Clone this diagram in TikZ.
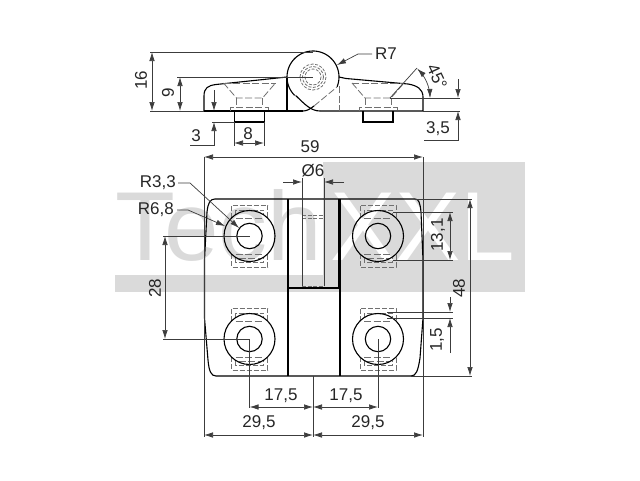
\documentclass[tikz,border=0pt]{standalone}
\usepackage{fontspec}
\setmainfont{Liberation Sans}
\usetikzlibrary{arrows.meta}
\definecolor{wmgray}{HTML}{DADADA}
\definecolor{dimgray}{HTML}{3C3C3C}
\definecolor{hiddengray}{HTML}{707070}
\tikzset{
  part/.style={black,line width=1.1pt},
  hiddenline/.style={hiddengray,line width=0.8pt,dash pattern=on 7pt off 2.5pt},
  dimline/.style={dimgray,line width=0.7pt},
  dimarrow/.style={dimline,{Latex[length=9pt,width=5.5pt]}-{Latex[length=9pt,width=5.5pt]}},
  endarrow/.style={dimline,-{Latex[length=9pt,width=5.5pt]}},
  dimtext/.style={inner sep=0pt,text=black!85,font=\fontsize{17}{17}\selectfont},
}
\begin{document}
\begin{tikzpicture}[x=1pt,y=-1pt]
\useasboundingbox (0,0) rectangle (640,480);
% watermark
\fill[wmgray] (323,162) rectangle (525,292);
\fill[wmgray] (115,275) rectangle (525,292);
\node[anchor=base west,inner sep=0pt,text=wmgray,font=\fontsize{98}{98}\selectfont] (wmtech) at (115,260) {Tech};
\node[anchor=base west,inner sep=0pt,text=white,font=\fontsize{98}{98}\selectfont] (wmxxl) at (330,260) {XXL};
% side view
\draw[part] (204,111) -- (204,96) .. controls (204,88) and (208,85.5) .. (216,84.5) -- (287,77);
\draw[part] (287,77) -- (287,111);
\draw[part] (204,111) -- (303,111);
\draw[part] (320,111) -- (423,111) -- (423,97) .. controls (423,89) and (417,85.5) .. (408,84) -- (346,78.5) -- (339,77);
\draw[part,domain=135:382,samples=60,variable=\t] plot ({313+26*cos(\t)},{77+26*sin(\t)});
\draw[part] (295.6,95.4) .. controls (305,104.5) and (311,111) .. (320,111);
\draw[part] (303,111) .. controls (307,111) and (310,109) .. (314,106);
\draw[hiddenline] (314,106) -- (337,87);
\draw[hiddenline] (339,86) -- (339,111);
\foreach \r in {13,10.5,8}
  \draw[hiddenline,dash pattern=on 3pt off 1.5pt] (313,77) circle (\r);
\foreach \c in {249.5,378} {
  \draw[hiddenline] (\c-26,83) -- (\c+26,83);
  \draw[hiddenline] (\c-26,83) -- (\c-13,98) -- (\c+13,98) -- (\c+26,83);
  \draw[hiddenline] (\c-13,98) -- (\c-13,107);
  \draw[hiddenline] (\c+13,98) -- (\c+13,107);
  \draw[hiddenline] (\c-19,111) -- (\c-19,107) -- (\c+19,107) -- (\c+19,111);
  \draw[part] (\c-15,111) -- (\c-15,122) -- (\c+15,122) -- (\c+15,111);
}
% plan view
\draw[part] (215,199) -- (415,199) .. controls (419,199) and (420,203) .. (421,212) -- (423,260) -- (423,318)
  -- (420,358) .. controls (418,371) and (416,376) .. (411,376) -- (216,376) .. controls (211,376) and (209,371) .. (208,360)
  -- (204.5,318) -- (204.5,260) -- (207,212) .. controls (208,203) and (210,199) .. (215,199);
\draw[part] (288,199) -- (288,376);
\draw[part] (340,199) -- (340,376);
\draw[part] (338.5,199) -- (338.5,288);
\draw[part] (288,288) -- (340,288);
\draw[hiddenline,dash pattern=on 4pt off 1.5pt] (302,215) -- (324,215);
\draw[hiddenline,dash pattern=on 4pt off 1.5pt] (302,218) -- (324,218);
\draw[hiddenline,dash pattern=on 4pt off 1.5pt] (302,286) -- (324,286);
\foreach \c/\h in {249.5/236,378/236,249.5/339,378/339} {
  \draw[hiddenline,dash pattern=on 5pt off 2pt] (\c-18,\h-18) -- (\c-18,\h-31) -- (\c+18,\h-31) -- (\c+18,\h-18);
  \draw[hiddenline,dash pattern=on 5pt off 2pt] (\c-18,\h+18) -- (\c-18,\h+31) -- (\c+18,\h+31) -- (\c+18,\h+18);
  \draw[hiddenline,dash pattern=on 5pt off 2pt] (\c-14,\h-22) -- (\c-14,\h-26) -- (\c+14,\h-26) -- (\c+14,\h-22);
  \draw[hiddenline,dash pattern=on 5pt off 2pt] (\c-14,\h+22) -- (\c-14,\h+26) -- (\c+14,\h+26) -- (\c+14,\h+22);
  \draw[hiddenline] (\c-14,\h-18) -- (\c+14,\h-18);
  \draw[hiddenline] (\c-14,\h+18) -- (\c+14,\h+18);
  \draw[hiddenline] (\c-11,\h+22) -- (\c+11,\h+22);
  \draw[part] (\c,\h) circle (25.5);
  \draw[part] (\c,\h) circle (12.7);
}
% dimensions side view
\draw[dimline] (150,52) -- (313,52);
\draw[dimline] (150,111) -- (204,111);
\draw[dimarrow] (152,52) -- (152,111);
\node[dimtext,rotate=90] (dimsixteen) at (141,80) {16};
\draw[dimline] (177,77) -- (313,77);
\draw[dimarrow] (180,77) -- (180,111);
\node[dimtext,rotate=90] (dimnine) at (168,93) {9};
\draw[endarrow] (214,90) -- (214,111);
\draw[endarrow] (190,145) -- (214,145) -- (214,122);
\draw[dimline] (212,122) -- (234,122);
\node[dimtext] (dimthree) at (196,136) {3};
\draw[dimline] (234,122) -- (234,146);
\draw[dimline] (264,122) -- (264,146);
\draw[dimarrow] (234,143) -- (264,143);
\node[dimtext] (dimeight) at (248,134) {8};
\draw[dimarrow] (204,157) -- (423,157);
\node[dimtext] (dimwidth) at (310,147) {59};
\node[dimtext,anchor=west] (dimrseven) at (375,54) {R7};
\draw[endarrow] (372,54) -- (358,54) -- (337,65);
\draw[dimline] (390,98) -- (417,68);
\draw[dimline] (390,98) -- (460,98);
\draw[dimline] (423,111) -- (460,111);
\draw[dimarrow,domain=-47:0,samples=20,variable=\t] plot ({390+40*cos(\t)},{98+40*sin(\t)});
\node[dimtext,rotate=-65] (dimangle) at (437,77) {45°};
\draw[endarrow] (458,79) -- (458,98);
\draw[endarrow] (424,140) -- (458,140) -- (458,111);
\node[dimtext] (dimdepth) at (438,129) {3,5};
% dimensions plan view
\draw[dimline] (204,157) -- (204,437);
\draw[dimline] (423,157) -- (423,437);
\node[dimtext,anchor=east] (dimrthree) at (176,183) {R3,3};
\draw[endarrow] (178,183) -- (190,183) -- (239,228);
\node[dimtext,anchor=east] (dimrsix) at (174,210) {R6,8};
\draw[endarrow] (177,210) -- (188,210) -- (225,226);
\draw[dimline] (302,178) -- (302,286);
\draw[dimline] (324,178) -- (324,286);
\draw[endarrow] (283,182) -- (302,182);
\draw[endarrow] (344,182) -- (324,182);
\node[dimtext] (dimbore) at (313,171) {Ø6};
\draw[dimline] (163,236) -- (249.5,236);
\draw[dimline] (163,339) -- (249.5,339);
\draw[dimarrow] (165,236) -- (165,339);
\node[dimtext,rotate=90] (dimhigh) at (155,288) {28};
\draw[dimline] (393,212) -- (453,212);
\draw[dimline] (393,260) -- (453,260);
\draw[dimarrow] (450,212) -- (450,260);
\node[dimtext,rotate=90] (dimwide) at (438,235) {13,1};
\draw[dimline] (415,199) -- (472,199);
\draw[dimline] (411,376) -- (472,376);
\draw[dimarrow] (470,199) -- (470,376);
\node[dimtext,rotate=90] (dimheight) at (459,288) {48};
\draw[dimline] (387,312) -- (453,312);
\draw[dimline] (387,318) -- (453,318);
\draw[endarrow] (450,297) -- (450,312);
\draw[endarrow] (450,353) -- (450,318);
\node[dimtext,rotate=90] (dimslot) at (437,340) {1,5};
\draw[dimline] (249.5,339) -- (249.5,408);
\draw[dimline] (378,339) -- (378,408);
\draw[dimline] (313,376) -- (313,437);
\draw[dimarrow] (249.5,407) -- (313,407);
\draw[dimarrow] (313,407) -- (378,407);
\draw[dimarrow] (204,435) -- (313,435);
\draw[dimarrow] (313,435) -- (423,435);
\node[dimtext] (dimla) at (281,396) {17,5};
\node[dimtext] (dimlb) at (346,396) {17,5};
\node[dimtext] (dimoa) at (259,423) {29,5};
\node[dimtext] (dimob) at (368,423) {29,5};
\end{tikzpicture}
\end{document}
